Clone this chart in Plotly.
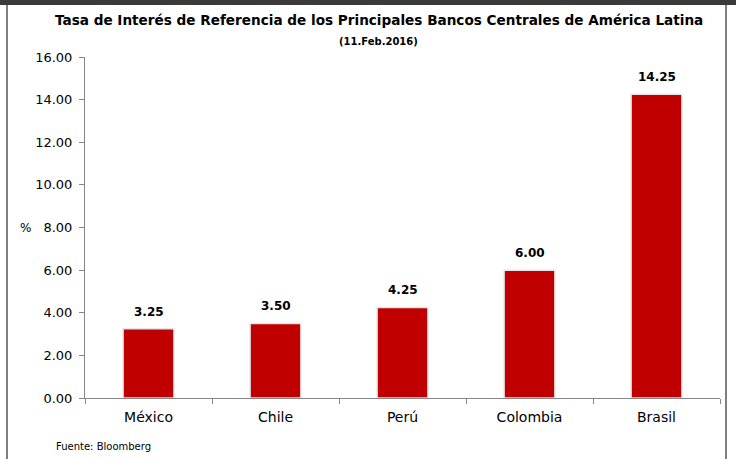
import plotly.graph_objects as go

categories = ["México", "Chile", "Perú", "Colombia", "Brasil"]
rates = [3.25, 3.50, 4.25, 6.00, 14.25]
y_ticks = [0, 2, 4, 6, 8, 10, 12, 14, 16]
y_tick_labels = ["0.00", "2.00", "4.00", "6.00", "8.00", "10.00", "12.00", "14.00", "16.00"]

title = "Tasa de Interés de Referencia de los Principales Bancos Centrales de América Latina"
subtitle = "(11.Feb.2016)"
source = "Fuente: Bloomberg"

W, H = 736, 459
ML, MR, MT, MB = 85, 16, 57, 61
PW, PH = W - ML - MR, H - MT - MB

def px_x(p):
    return (p - ML) / PW

def px_y(p):
    return (H - MB - p) / PH

FONT = "DejaVu Sans"

fig = go.Figure()
fig.add_trace(go.Bar(
    x=categories, y=rates,
    marker=dict(color="#C00000", line=dict(color="#E6E6E6", width=1.5)),
    width=0.4,
    hoverinfo="x+y",
))

annotations = []
for c, v in zip(categories, rates):
    annotations.append(dict(x=c, y=v, xref="x", yref="y", text=f"<b>{v:.2f}</b>",
                            showarrow=False, yanchor="bottom", yshift=8,
                            font=dict(family=FONT, size=12, color="#000000")))
annotations += [
    dict(x=px_x(379), y=px_y(20), xref="paper", yref="paper", text=f"<b>{title}</b>",
         showarrow=False, xanchor="center", yanchor="middle",
         font=dict(family=FONT, size=13.6, color="#000000")),
    dict(x=px_x(378), y=px_y(41), xref="paper", yref="paper", text=f"<b>{subtitle}</b>",
         showarrow=False, xanchor="center", yanchor="middle",
         font=dict(family=FONT, size=10, color="#000000")),
    dict(x=px_x(25), y=8, xref="paper", yref="y", text="%",
         showarrow=False, xanchor="center", yanchor="middle",
         font=dict(family=FONT, size=12, color="#000000")),
    dict(x=px_x(54), y=px_y(446), xref="paper", yref="paper", text=source,
         showarrow=False, xanchor="left", yanchor="middle",
         font=dict(family=FONT, size=10, color="#000000")),
]

shapes = [
    dict(type="rect", xref="paper", yref="paper", x0=px_x(0), x1=px_x(W), y0=px_y(5), y1=px_y(0),
         fillcolor="#3A3A3A", line=dict(width=0), layer="below"),
    dict(type="rect", xref="paper", yref="paper", x0=px_x(6), x1=px_x(8), y0=px_y(H), y1=px_y(5),
         fillcolor="#7F7F7F", line=dict(width=0), layer="below"),
    dict(type="rect", xref="paper", yref="paper", x0=px_x(725), x1=px_x(727), y0=px_y(H), y1=px_y(5),
         fillcolor="#7F7F7F", line=dict(width=0), layer="below"),
]

fig.update_layout(
    width=W, height=H,
    margin=dict(l=ML, r=MR, t=MT, b=MB),
    paper_bgcolor="#FFFFFF", plot_bgcolor="#FFFFFF",
    showlegend=False,
    annotations=annotations,
    shapes=shapes,
    font=dict(family=FONT, color="#000000"),
    xaxis=dict(
        showline=True, linecolor="#868686", linewidth=1,
        ticks="outside", tickson="boundaries", ticklen=5, tickcolor="#868686",
        tickfont=dict(family=FONT, size=14, color="#000000"),
        ticklabelstandoff=6,
        showgrid=False, zeroline=False,
    ),
    yaxis=dict(
        range=[0, 16], tickvals=y_ticks, ticktext=y_tick_labels,
        showline=True, linecolor="#868686", linewidth=1,
        ticks="outside", ticklen=5, tickcolor="#868686",
        tickfont=dict(family=FONT, size=13, color="#000000"),
        ticklabelstandoff=4,
        showgrid=False, zeroline=False,
    ),
)

fig.write_html("out.html", config={"displayModeBar": False},
               post_script="document.body.style.margin='0';document.body.style.overflow='hidden';")
